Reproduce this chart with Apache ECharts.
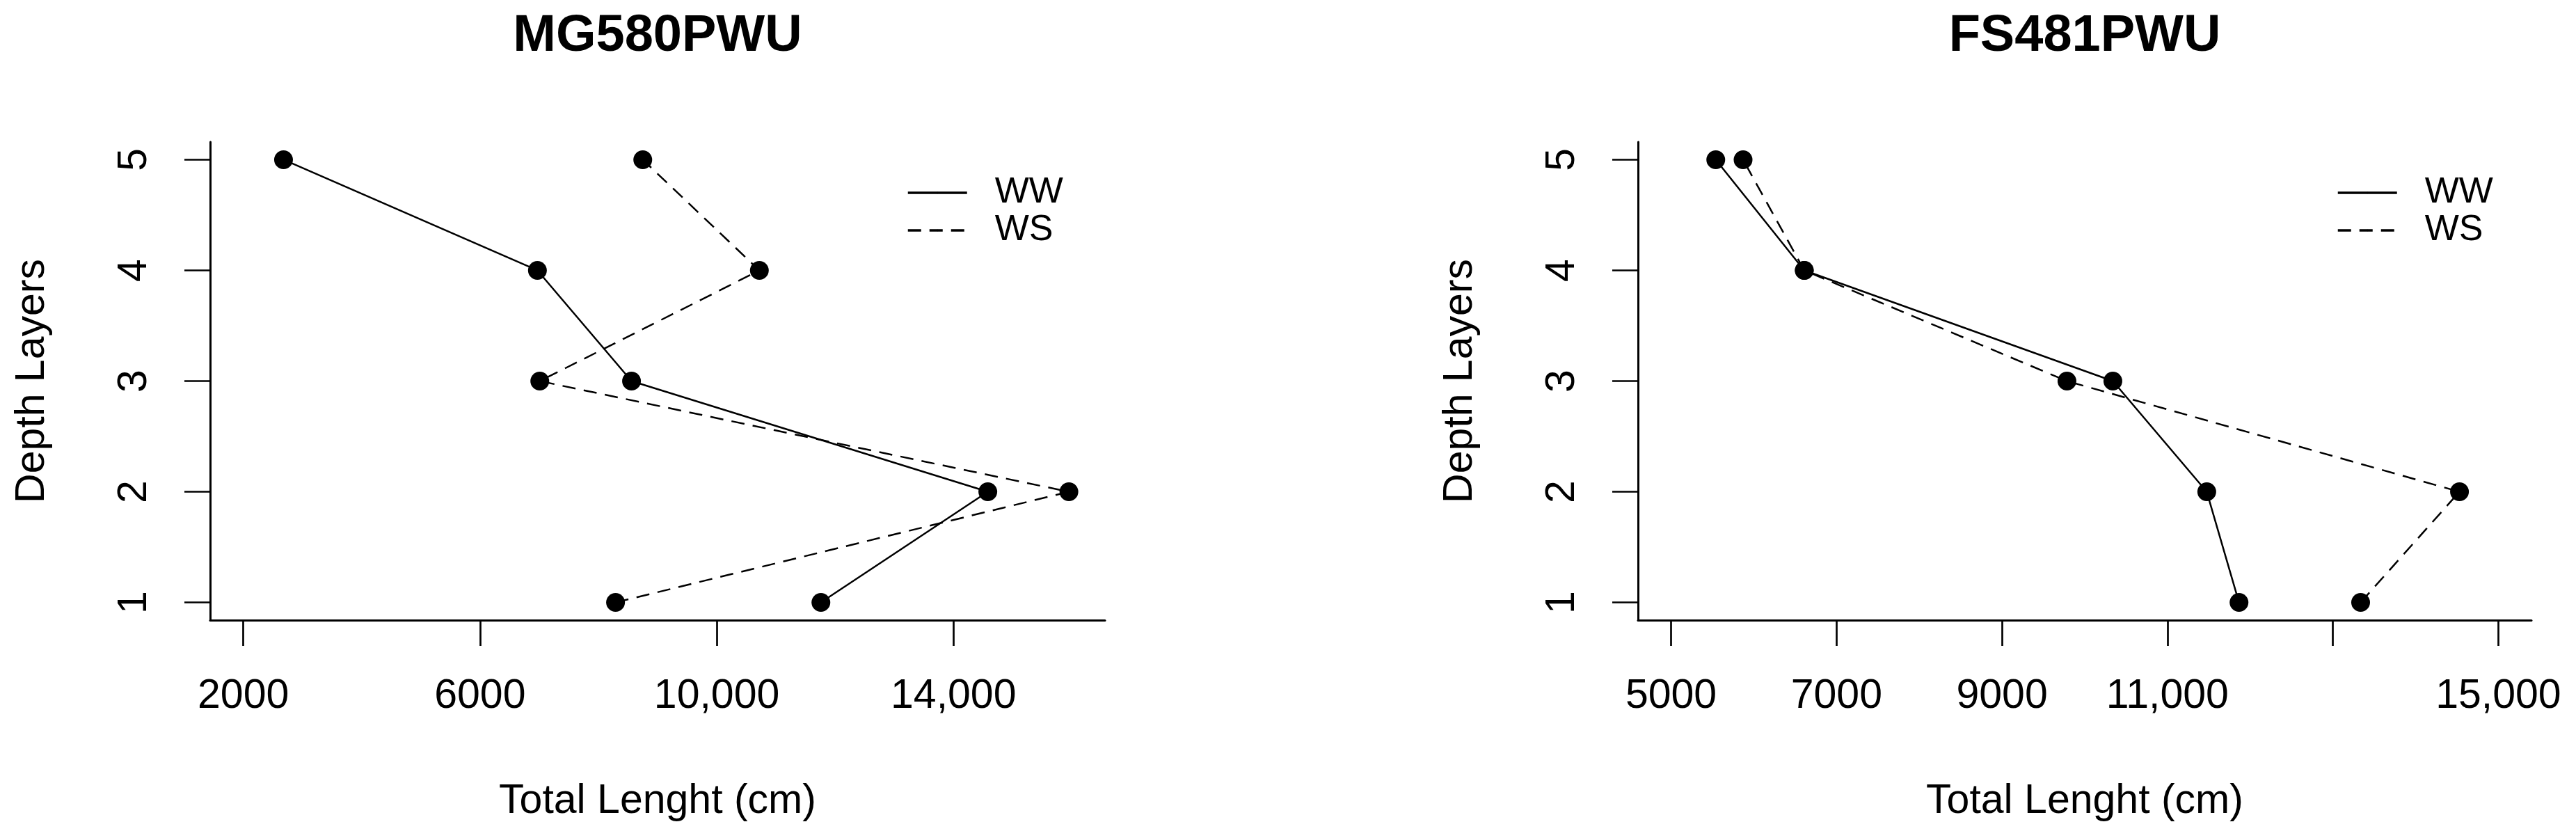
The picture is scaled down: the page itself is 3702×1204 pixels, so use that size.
<!DOCTYPE html>
<html>
<head>
<meta charset="utf-8">
<title>Depth layers</title>
<script src="https://cdn.jsdelivr.net/npm/echarts@6/dist/echarts.min.js"></script>
<style>
  html, body { margin: 0; padding: 0; background: #fff; }
  #chart { width: 3702px; height: 1204px; }
</style>
</head>
<body>
<div id="chart"></div>
<script>
// data (depth layer 1..5)
var depthLayers = [1, 2, 3, 4, 5];
var mgWW = [11760, 14580, 8560, 6970, 2680];
var mgWS = [8290, 15950, 7010, 10720, 8750];
var fsWW = [11865, 11475, 10340, 6610, 5540];
var fsWS = [13335, 14530, 9785, 6610, 5870];

var panelTitles = ['MG580PWU', 'FS481PWU'];
var seriesNames = ['WW', 'WS'];
var mgTicks = [2000, 6000, 10000, 14000];
var fsTicks = [5000, 7000, 9000, 11000, 13000, 15000];
var fsLabels = [5000, 7000, 9000, 11000, 15000]; // 13,000 label is dropped in the original
var depthTicks = [1, 2, 3, 4, 5];

var font = '"Liberation Sans", Arial, sans-serif';
var black = '#000';

function pairs(xs) {
  return depthLayers.map(function (d, i) { return [xs[i], d]; });
}

function fmt(v) {
  // R style: no separator below 10,000
  return v >= 10000 ? v.toLocaleString('en-US') : String(v);
}

function xAxisOf(idx, min, max, ticks, labels) {
  return {
    type: 'value', gridIndex: idx, min: min, max: max,
    name: 'Total Lenght (cm)', nameLocation: 'middle', nameGap: 231,
    nameTextStyle: { fontFamily: font, fontSize: 59, color: black },
    axisLine: { show: true, onZero: false, lineStyle: { color: black, width: 3 } },
    axisTick: { show: true, length: 37, customValues: ticks, lineStyle: { color: black, width: 2.7 } },
    axisLabel: { show: true, margin: 80, customValues: labels, formatter: fmt,
      fontFamily: font, fontSize: 59, color: black },
    splitLine: { show: false }
  };
}

function yAxisOf(idx) {
  return {
    type: 'value', gridIndex: idx, min: 0.84, max: 5.16,
    name: 'Depth Layers', nameLocation: 'middle', nameGap: 226, nameRotate: 90,
    nameTextStyle: { fontFamily: font, fontSize: 59, color: black },
    axisLine: { show: true, onZero: false, lineStyle: { color: black, width: 3 } },
    axisTick: { show: true, length: 37, customValues: depthTicks, lineStyle: { color: black, width: 2.7 } },
    axisLabel: { show: true, margin: 79, rotate: 90, customValues: depthTicks,
      fontFamily: font, fontSize: 59, color: black },
    splitLine: { show: false }
  };
}

function lineSeries(name, idx, xs, dashed) {
  return {
    name: name, type: 'line', xAxisIndex: idx, yAxisIndex: idx,
    data: pairs(xs),
    symbol: 'circle', symbolSize: 27,
    itemStyle: { color: black },
    lineStyle: { color: black, width: 2.5, type: dashed ? [19, 12] : 'solid' },
    emphasis: { disabled: true },
    z: 3
  };
}

function legendOf(idx, left, names) {
  return {
    orient: 'vertical', left: left, top: 251, padding: 0,
    itemWidth: 85, itemHeight: 3, itemGap: 2,
    data: names,
    lineStyle: { width: 3.5 },
    textStyle: { fontFamily: font, fontSize: 52, lineHeight: 49, color: black, padding: [0, 0, 0, 35] },
    selectedMode: false
  };
}

var chart = echarts.init(document.getElementById('chart'), null, { renderer: 'canvas' });

var option = {
  animation: false,
  backgroundColor: '#fff',
  title: [
    { text: panelTitles[0], left: 945, top: 16, textAlign: 'center', padding: 0,
      textStyle: { fontFamily: font, fontSize: 74, fontWeight: 'bold', color: black } },
    { text: panelTitles[1], left: 2996, top: 16, textAlign: 'center', padding: 0,
      textStyle: { fontFamily: font, fontSize: 74, fontWeight: 'bold', color: black } }
  ],
  grid: [
    { left: 302, top: 204, width: 1286, height: 687 },
    { left: 2354, top: 204, width: 1284, height: 687 }
  ],
  legend: [
    legendOf(0, 1303, seriesNames),
    legendOf(1, 3358, seriesNames)
  ],
  xAxis: [
    xAxisOf(0, 1440, 16560, mgTicks, mgTicks),
    xAxisOf(1, 4600, 15400, fsTicks, fsLabels)
  ],
  yAxis: [yAxisOf(0), yAxisOf(1)],
  series: [
    lineSeries('WW', 0, mgWW, false),
    lineSeries('WS', 0, mgWS, true),
    lineSeries('WW', 1, fsWW, false),
    lineSeries('WS', 1, fsWS, true)
  ]
};

chart.setOption(option);
</script>
</body>
</html>
